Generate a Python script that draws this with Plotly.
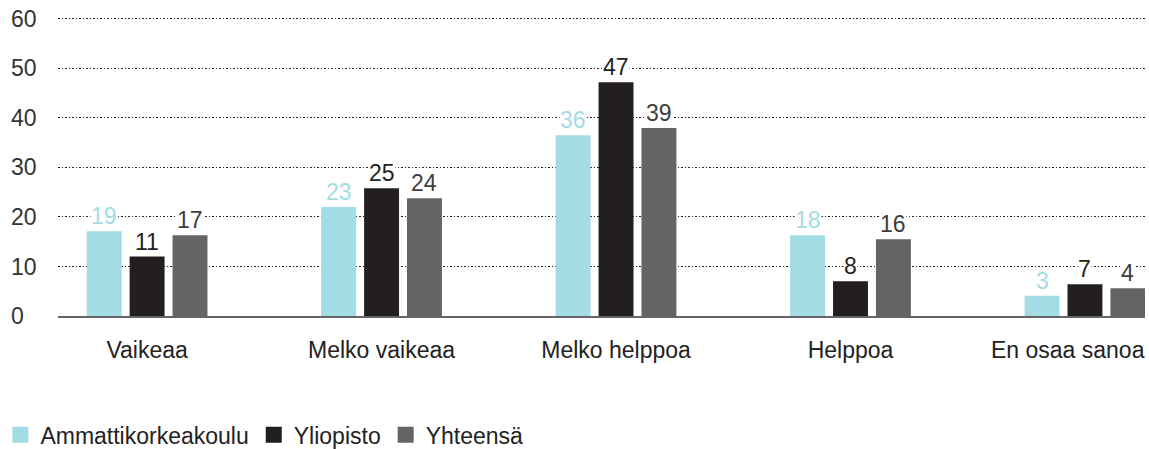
import plotly.graph_objects as go

categories = ["Vaikeaa", "Melko vaikeaa", "Melko helppoa", "Helppoa", "En osaa sanoa"]
series_names = ["Ammattikorkeakoulu", "Yliopisto", "Yhteensä"]

# bar heights as drawn in the reference
amk_bars = [17.1, 22.0, 36.5, 16.3, 4.1]
yo_bars = [12.0, 25.8, 47.2, 7.0, 6.4]
yht_bars = [16.3, 23.8, 38.0, 15.5, 5.6]

# printed value labels
amk_labels = [19, 23, 36, 18, 3]
yo_labels = [11, 25, 47, 8, 7]
yht_labels = [17, 24, 39, 16, 4]

y_ticks = [0, 10, 20, 30, 40, 50, 60]

bar_colors = ["#a3dce4", "#231f20", "#646466"]
label_colors = ["#a3dce4", "#231f20", "#3d3d3d"]

FONT = "Liberation Sans"
FS = 23
offsets = [-0.183, 0.0, 0.183]
bar_w = 0.149

fig = go.Figure()
annotations = []
all_bars = [amk_bars, yo_bars, yht_bars]
all_labels = [amk_labels, yo_labels, yht_labels]
for k in range(3):
    xs = [i + offsets[k] for i in range(len(categories))]
    fig.add_trace(go.Bar(
        x=xs, y=all_bars[k], width=bar_w, name=series_names[k],
        marker=dict(color=bar_colors[k], line=dict(width=0)),
        showlegend=False, hoverinfo="skip",
    ))
    for x, yv, lab in zip(xs, all_bars[k], all_labels[k]):
        annotations.append(dict(
            x=x, y=yv, xref="x", yref="y", text=str(lab), showarrow=False,
            yanchor="bottom", yshift=1, bgcolor="white", borderpad=0,
            font=dict(family=FONT, size=FS, color=label_colors[k]),
        ))

# legend entries (square swatches)
for k in range(3):
    fig.add_trace(go.Scatter(
        x=[None], y=[None], mode="markers", name=series_names[k],
        marker=dict(symbol="square", size=20, color=bar_colors[k]),
    ))

for t in y_ticks:
    annotations.append(dict(
        x=-0.045, xref="paper", y=t, yref="y", text=str(t), showarrow=False,
        xanchor="left", yanchor="middle",
        font=dict(family=FONT, size=FS, color="#333333"),
    ))

# last category label sits at the right edge: right-align it to the last bar
last = len(categories) - 1
tick_text = categories[:last] + [""]
annotations.append(dict(
    x=last + offsets[2], xref="x", y=0, yref="paper",
    text=categories[last], showarrow=False, xanchor="right", yanchor="top",
    xshift=19, yshift=-19, font=dict(family=FONT, size=FS, color="#222222"),
))

fig.update_layout(
    width=1149, height=449,
    margin=dict(l=58, r=4, t=17, b=133, autoexpand=False),
    plot_bgcolor="white", paper_bgcolor="white",
    barmode="overlay",
    font=dict(family=FONT, size=FS, color="#222222"),
    showlegend=True,
    legend=dict(
        orientation="h", x=-0.053, xanchor="left", y=-0.325, yanchor="top",
        font=dict(family=FONT, size=FS, color="#222222"),
        itemclick=False, traceorder="normal", itemsizing="trace",
    ),
    annotations=annotations,
    xaxis=dict(
        range=[-0.38, 4.256], tickmode="array",
        tickvals=list(range(len(categories))), ticktext=tick_text,
        showgrid=False, zeroline=False, showline=True, linecolor="#666666",
        linewidth=2, ticks="", ticklabelstandoff=12,
        tickfont=dict(family=FONT, size=FS, color="#222222"),
    ),
    yaxis=dict(
        range=[0, 60.4], tickvals=y_ticks, showticklabels=False,
        showgrid=True, gridcolor="#222222", gridwidth=1.2, griddash="1.5px,2px",
        zeroline=False, showline=False,
    ),
)

fig.write_html(
    "out.html",
    config={"displayModeBar": False},
    post_script="document.body.style.margin='0';document.body.style.overflow='hidden';",
)
